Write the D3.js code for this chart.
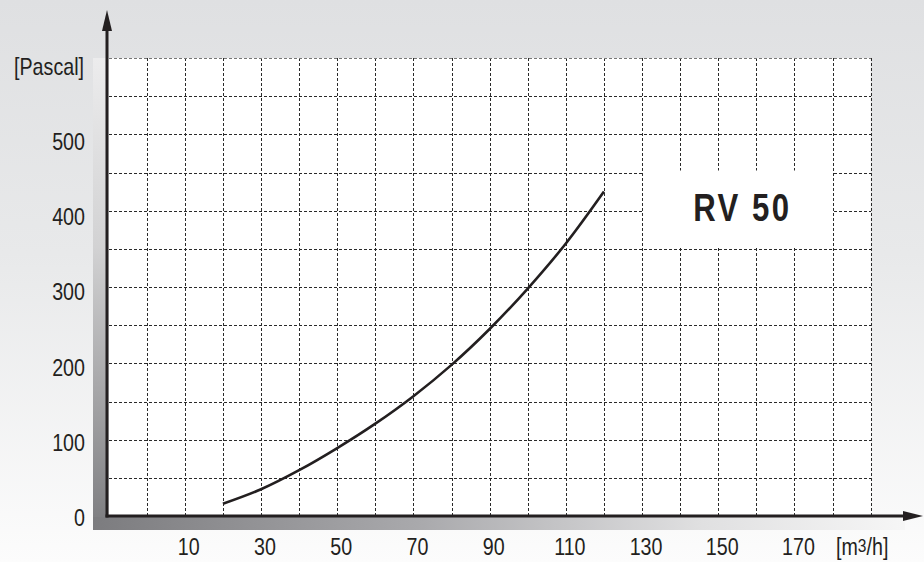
<!DOCTYPE html>
<html>
<head>
<meta charset="utf-8">
<script src="https://cdn.jsdelivr.net/npm/d3@7"></script>
<style>
  html, body { margin: 0; padding: 0; background: #fff; }
  svg { display: block; }
  text { font-family: "Liberation Sans", Arial, sans-serif; fill: #231f20; }
</style>
</head>
<body>
<svg id="chart" width="924" height="562"></svg>
<script>
  const flow = [20, 30, 40, 50, 60, 70, 80, 90, 100, 110, 120];
  const pressure = [16, 35, 60, 89, 121, 157, 198, 245, 298, 357, 425];
  const xTickLabels = [10, 30, 50, 70, 90, 110, 130, 150, 170];
  const yTickLabels = [0, 100, 200, 300, 400, 500];
  const modelName = "RV 50";

  const width = 924;
  const height = 562;
  const ink = "#231f20";
  const narrow = 0.82; // squeeze Liberation Sans into a narrow face

  const x = d3.scaleLinear().domain([-10, 190]).range([108.6, 870.7]);
  const y = d3.scaleLinear().domain([0, 600]).range([516, 58]);
  // tick labels sit a little below their grid lines, drifting slightly
  const yLabel = d3.scaleLinear().domain([0, 500]).range([526, 150]);

  const svg = d3.select("#chart");
  const defs = svg.append("defs");

  function narrowText(parent, px, py, anchor, size) {
    return parent.append("g")
      .attr("transform", `translate(${px},${py}) scale(${narrow},1)`)
      .append("text")
      .attr("text-anchor", anchor)
      .attr("font-size", size);
  }

  const bg = defs.append("linearGradient").attr("id", "bg")
    .attr("x1", 0).attr("y1", 0).attr("x2", 0).attr("y2", 1);
  bg.append("stop").attr("offset", 0).attr("stop-color", "#dfe0e2");
  bg.append("stop").attr("offset", 0.45).attr("stop-color", "#e8e9ea");
  bg.append("stop").attr("offset", 1).attr("stop-color", "#fcfcfc");

  const vShade = defs.append("linearGradient").attr("id", "vshade")
    .attr("x1", 0).attr("y1", 0).attr("x2", 0).attr("y2", 1);
  vShade.append("stop").attr("offset", 0).attr("stop-color", "#ececed");
  vShade.append("stop").attr("offset", 0.4).attr("stop-color", "#d2d2d3");
  vShade.append("stop").attr("offset", 1).attr("stop-color", "#7c7c7f");

  const hShade = defs.append("linearGradient").attr("id", "hshade")
    .attr("x1", 0).attr("y1", 0).attr("x2", 1).attr("y2", 0);
  hShade.append("stop").attr("offset", 0).attr("stop-color", "#7c7c7f");
  hShade.append("stop").attr("offset", 0.4).attr("stop-color", "#a9a9ac");
  hShade.append("stop").attr("offset", 0.75).attr("stop-color", "#e0e0e1");
  hShade.append("stop").attr("offset", 1).attr("stop-color", "#f6f6f6");

  svg.append("rect").attr("width", width).attr("height", height).attr("fill", "url(#bg)");

  // shadow bands along the axes
  svg.append("rect")
    .attr("x", 93).attr("y", y(600))
    .attr("width", x(-10) - 93).attr("height", 530 - y(600))
    .attr("fill", "url(#vshade)");
  svg.append("rect")
    .attr("x", 93).attr("y", y(0) + 1)
    .attr("width", 905 - 93).attr("height", 530 - y(0) - 1)
    .attr("fill", "url(#hshade)");

  // plot area
  svg.append("rect")
    .attr("x", x(-10)).attr("y", y(600))
    .attr("width", x(190) - x(-10)).attr("height", y(0) - y(600))
    .attr("fill", "#fff");

  const grid = svg.append("g")
    .attr("stroke", "#2a2a2a")
    .attr("stroke-width", 1)
    .attr("stroke-dasharray", "3,2")
    .attr("shape-rendering", "crispEdges");

  grid.selectAll("line.v")
    .data(d3.range(0, 191, 10))
    .join("line")
    .attr("class", "v")
    .attr("x1", (d) => Math.round(x(d)) + 0.5)
    .attr("x2", (d) => Math.round(x(d)) + 0.5)
    .attr("y1", y(600))
    .attr("y2", y(0));

  grid.selectAll("line.h")
    .data(d3.range(50, 601, 50))
    .join("line")
    .attr("class", "h")
    .attr("x1", x(-10))
    .attr("x2", x(190))
    .attr("y1", (d) => Math.round(y(d)) + 0.5)
    .attr("y2", (d) => Math.round(y(d)) + 0.5)
    .attr("stroke", (d) => (d === 600 ? "#777" : null));

  // label box for the model name
  svg.append("rect")
    .attr("x", Math.round(x(130)) + 1.5)
    .attr("y", y(450) - 2)
    .attr("width", Math.round(x(180)) - Math.round(x(130)) - 2)
    .attr("height", y(350) - y(450) + 0.5)
    .attr("fill", "#fff");

  narrowText(svg, (x(130) + x(180)) / 2 + 5, 221, "middle", 38)
    .attr("font-weight", 700)
    .attr("letter-spacing", 3)
    .text(modelName);

  // curve
  const line = d3.line()
    .x((d, i) => x(flow[i]))
    .y((d) => y(d))
    .curve(d3.curveCatmullRom);

  svg.append("path")
    .datum(pressure)
    .attr("fill", "none")
    .attr("stroke", ink)
    .attr("stroke-width", 2.6)
    .attr("d", line);

  // axes with arrows
  svg.append("line")
    .attr("x1", 107).attr("x2", 107)
    .attr("y1", y(0) + 1.5).attr("y2", 26)
    .attr("stroke", ink).attr("stroke-width", 3);
  svg.append("path")
    .attr("d", "M107,10 L112,31 L102,31 Z")
    .attr("fill", ink);

  svg.append("line")
    .attr("x1", 105.5).attr("x2", 908)
    .attr("y1", y(0)).attr("y2", y(0))
    .attr("stroke", ink).attr("stroke-width", 3);
  svg.append("path")
    .attr("d", `M923,${y(0)} L903,${y(0) - 5} L903,${y(0) + 5} Z`)
    .attr("fill", ink);

  // tick labels
  xTickLabels.forEach((d) => {
    narrowText(svg, x(d) + 4, 555, "middle", 24).text(d);
  });

  yTickLabels.forEach((d) => {
    narrowText(svg, 85, yLabel(d), "end", 24).text(d);
  });

  narrowText(svg, 84, 75, "end", 24).text("[Pascal]");

  const unit = narrowText(svg, 836, 555, "start", 24);
  unit.append("tspan").text("[m");
  unit.append("tspan").attr("font-size", 19).attr("dy", -3).text("3");
  unit.append("tspan").attr("dy", 3).text("/h]");
</script>
</body>
</html>
